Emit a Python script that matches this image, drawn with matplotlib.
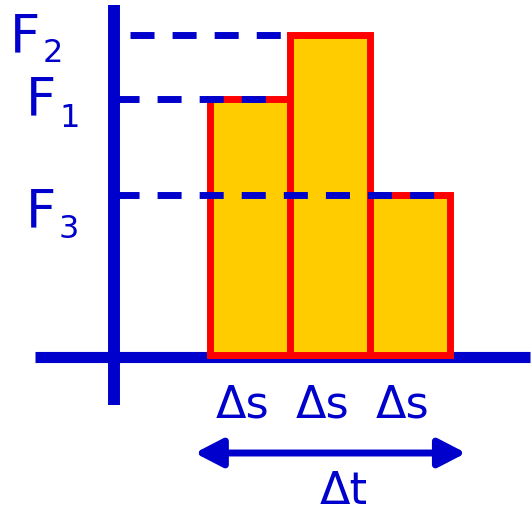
"""
Impulse sketch: force steps over equal displacement intervals
"""

import matplotlib
matplotlib.use("Agg")
import matplotlib.pyplot as plt
from matplotlib.patches import FancyArrowPatch

# ------------------------------------------------------------------
# Data
# ------------------------------------------------------------------
BAR_LABELS = ["Δs", "Δs", "Δs"]
FORCES = [3.2, 4.0, 2.0]            # height of each step
FORCE_NAMES = ["1", "2", "3"]       # subscripts of F
SPAN_LABEL = "Δt"

BLUE = "#0000CC"
RED = "#FF0000"
YELLOW = "#FFCC00"

plt.rcParams["font.family"] = ["DejaVu Sans"]
plt.rcParams["lines.scale_dashes"] = False

# ------------------------------------------------------------------
# Figure: one axes over the whole canvas, 80 px per unit
# ------------------------------------------------------------------
fig = plt.figure(figsize=(5.32, 5.09), dpi=100)
ax = fig.add_axes([0, 0, 1, 1])
ax.set_xlim(-2.625, 4.025)
ax.set_ylim(-1.925, 4.4375)
ax.set_aspect("equal")
ax.axis("off")

# axes lines
ax.plot([-2.19, 4.0], [-0.025, -0.025], color=BLUE, lw=8, solid_capstyle="butt", zorder=1)
ax.plot([-1.2, -1.2], [-0.625, 4.375], color=BLUE, lw=8.6, solid_capstyle="butt", zorder=1)

# bars
xs = list(range(len(FORCES)))
ax.bar(xs, FORCES, width=1.0, align="edge", color=YELLOW, edgecolor=RED,
       linewidth=5, zorder=2)

# dashed guide lines from the vertical axis
dash_ends = {"1": 0.72, "2": 0.95, "3": 2.8}
dash_starts = {"1": -1.19, "2": -1.0, "3": -1.19}
for name, f in zip(FORCE_NAMES, FORCES):
    ax.plot([dash_starts[name], dash_ends[name]], [f, f], color=BLUE, lw=5,
            dashes=(17.3, 13.0), dash_capstyle="butt", zorder=3)

# F labels
label_pos = {"2": ((10, 52), (43, 62)), "1": ((26, 115), (59, 127)),
             "3": ((26, 227), (59, 238))}
for name in FORCE_NAMES:
    (fx, fy), (sx, sy) = label_pos[name]
    ax.text((fx - 210) / 80, (355 - fy) / 80, "F", color=BLUE, fontsize=38,
            ha="left", va="baseline")
    ax.text((sx - 210) / 80, (355 - sy) / 80, name, color=BLUE, fontsize=23,
            ha="left", va="baseline")

# interval labels
for x, lab in zip(xs, BAR_LABELS):
    ax.text(x + 0.4, -0.775, lab, color=BLUE, fontsize=32, ha="center", va="baseline")

# double arrow for the whole interval
arrow = FancyArrowPatch((-0.19, -1.225), (3.2, -1.225),
                        arrowstyle="<|-|>,head_length=16.6,head_width=8.6",
                        mutation_scale=1, color=BLUE, lw=5,
                        shrinkA=0, shrinkB=0, zorder=3)
ax.add_patch(arrow)
ax.text(1.675, -1.86, SPAN_LABEL, color=BLUE, fontsize=32, ha="center", va="baseline")

fig.savefig("out.png", dpi=100)
